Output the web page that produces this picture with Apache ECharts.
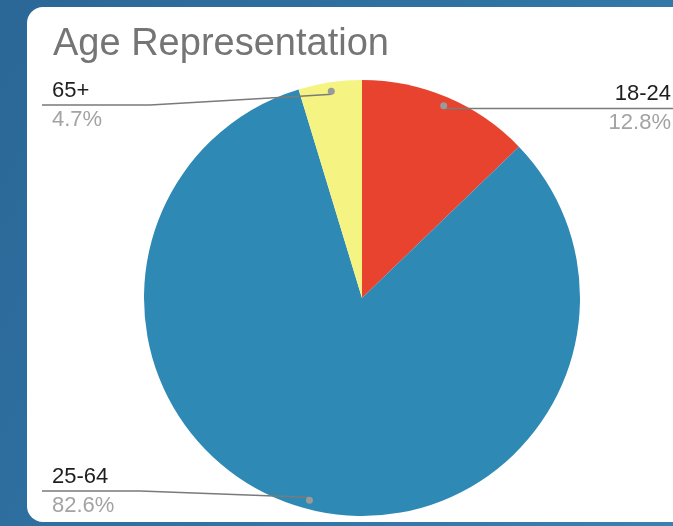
<!DOCTYPE html>
<html>
<head>
<meta charset="utf-8">
<script src="https://cdn.jsdelivr.net/npm/echarts@6/dist/echarts.min.js"></script>
<style>
  html, body { margin: 0; padding: 0; }
  body { width: 673px; height: 526px; overflow: hidden;
         background: linear-gradient(120deg, #2b6797 0%, #2f73a3 50%, #3a80b1 100%); position: relative; }
  #card { position: absolute; left: 27px; top: 7px; width: 720px; height: 515px;
          background: #ffffff; border-radius: 16px; }
  #chart { position: absolute; left: 0; top: 0; width: 673px; height: 526px; }
</style>
</head>
<body>
<div id="card"></div>
<div id="chart"></div>
<script>
// ---- data ----
const categories = ['18-24', '25-64', '65+'];
const shares = [12.8, 82.6, 4.7];
const sliceColors = ['#e8432f', '#2e8ab4', '#f5f382'];
const chartTitle = 'Age Representation';

// ---- layout constants ----
const CX = 362, CY = 298, R = 218;
const DOT_R = 206;
const LINE_TOP = 105, LINE_BOTTOM = 491;
const LEFT_LINE_X = 42, LEFT_TEXT_X = 52;
const RIGHT_LINE_X = 673, RIGHT_TEXT_X = 671;

const chart = echarts.init(document.getElementById('chart'), null, { renderer: 'canvas' });

const pieData = categories.map((c, i) => ({ name: c, value: shares[i], itemStyle: { color: sliceColors[i] } }));
const ghostData = categories.map((c, i) => ({ name: c, value: shares[i] }));

const option = {
  animation: false,
  backgroundColor: 'transparent',
  title: {
    text: chartTitle,
    left: 48,
    top: 21,
    textStyle: { fontFamily: 'Liberation Sans', fontSize: 38, fontWeight: 'normal', color: '#757575' }
  },
  series: [
    {
      // visible slices
      type: 'pie',
      z: 2,
      center: [CX, CY],
      radius: [0, R],
      startAngle: 90,
      clockwise: true,
      silent: true,
      data: pieData,
      itemStyle: { borderWidth: 0 },
      label: { show: false },
      labelLine: { show: false }
    },
    {
      // labels and leader lines, drawn above the slices
      type: 'pie',
      z: 3,
      center: [CX, CY],
      radius: [0, R],
      startAngle: 90,
      clockwise: true,
      avoidLabelOverlap: false,
      silent: true,
      data: ghostData,
      itemStyle: { color: 'rgba(0,0,0,0)', borderWidth: 0 },
      label: {
        show: true,
        position: 'outside',
        fontFamily: 'Liberation Sans',
        formatter: p => '{n|' + p.name + '}\n{p|' + p.value.toFixed(1) + '%}',
        rich: {
          n: { fontFamily: 'Liberation Sans', fontSize: 22, color: '#1e1e1e', lineHeight: 29 },
          p: { fontFamily: 'Liberation Sans', fontSize: 22, color: '#a3a3a3', lineHeight: 29 }
        }
      },
      labelLine: { show: true, lineStyle: { color: '#7a7a7a', width: 1.5 } },
      labelLayout: function (p) {
        const e = p.labelLinePoints[0];
        const dx = e[0] - CX, dy = e[1] - CY;
        const len = Math.sqrt(dx * dx + dy * dy) || 1;
        const dot = [CX + dx / len * DOT_R, CY + dy / len * DOT_R];
        const lineY = Math.min(Math.max(dot[1], LINE_TOP), LINE_BOTTOM);
        if (dx > 0) {
          return {
            x: RIGHT_TEXT_X, y: lineY, align: 'right', verticalAlign: 'middle',
            labelLinePoints: [dot, [RIGHT_LINE_X, lineY]]
          };
        }
        const mid = [dot[0] - 36, dot[1] + (lineY - dot[1]) * 0.2];
        const knee = [Math.min(dot[0] - 170, 150), lineY];
        return {
          x: LEFT_TEXT_X, y: lineY, align: 'left', verticalAlign: 'middle',
          labelLinePoints: [dot, mid, knee, [LEFT_LINE_X, lineY]]
        };
      }
    },
    {
      // dots at the start of each leader line
      type: 'pie',
      z: 4,
      center: [CX, CY],
      radius: [DOT_R - 12, DOT_R + 12],
      startAngle: 90,
      clockwise: true,
      silent: true,
      avoidLabelOverlap: false,
      data: ghostData,
      itemStyle: { color: 'rgba(0,0,0,0)', borderWidth: 0 },
      label: {
        show: true,
        position: 'inside',
        formatter: '{d|}',
        rich: { d: { width: 7, height: 7, borderRadius: 3.5, backgroundColor: '#9a9a9a' } }
      },
      labelLine: { show: false }
    }
  ]
};
chart.setOption(option);
</script>
</body>
</html>
